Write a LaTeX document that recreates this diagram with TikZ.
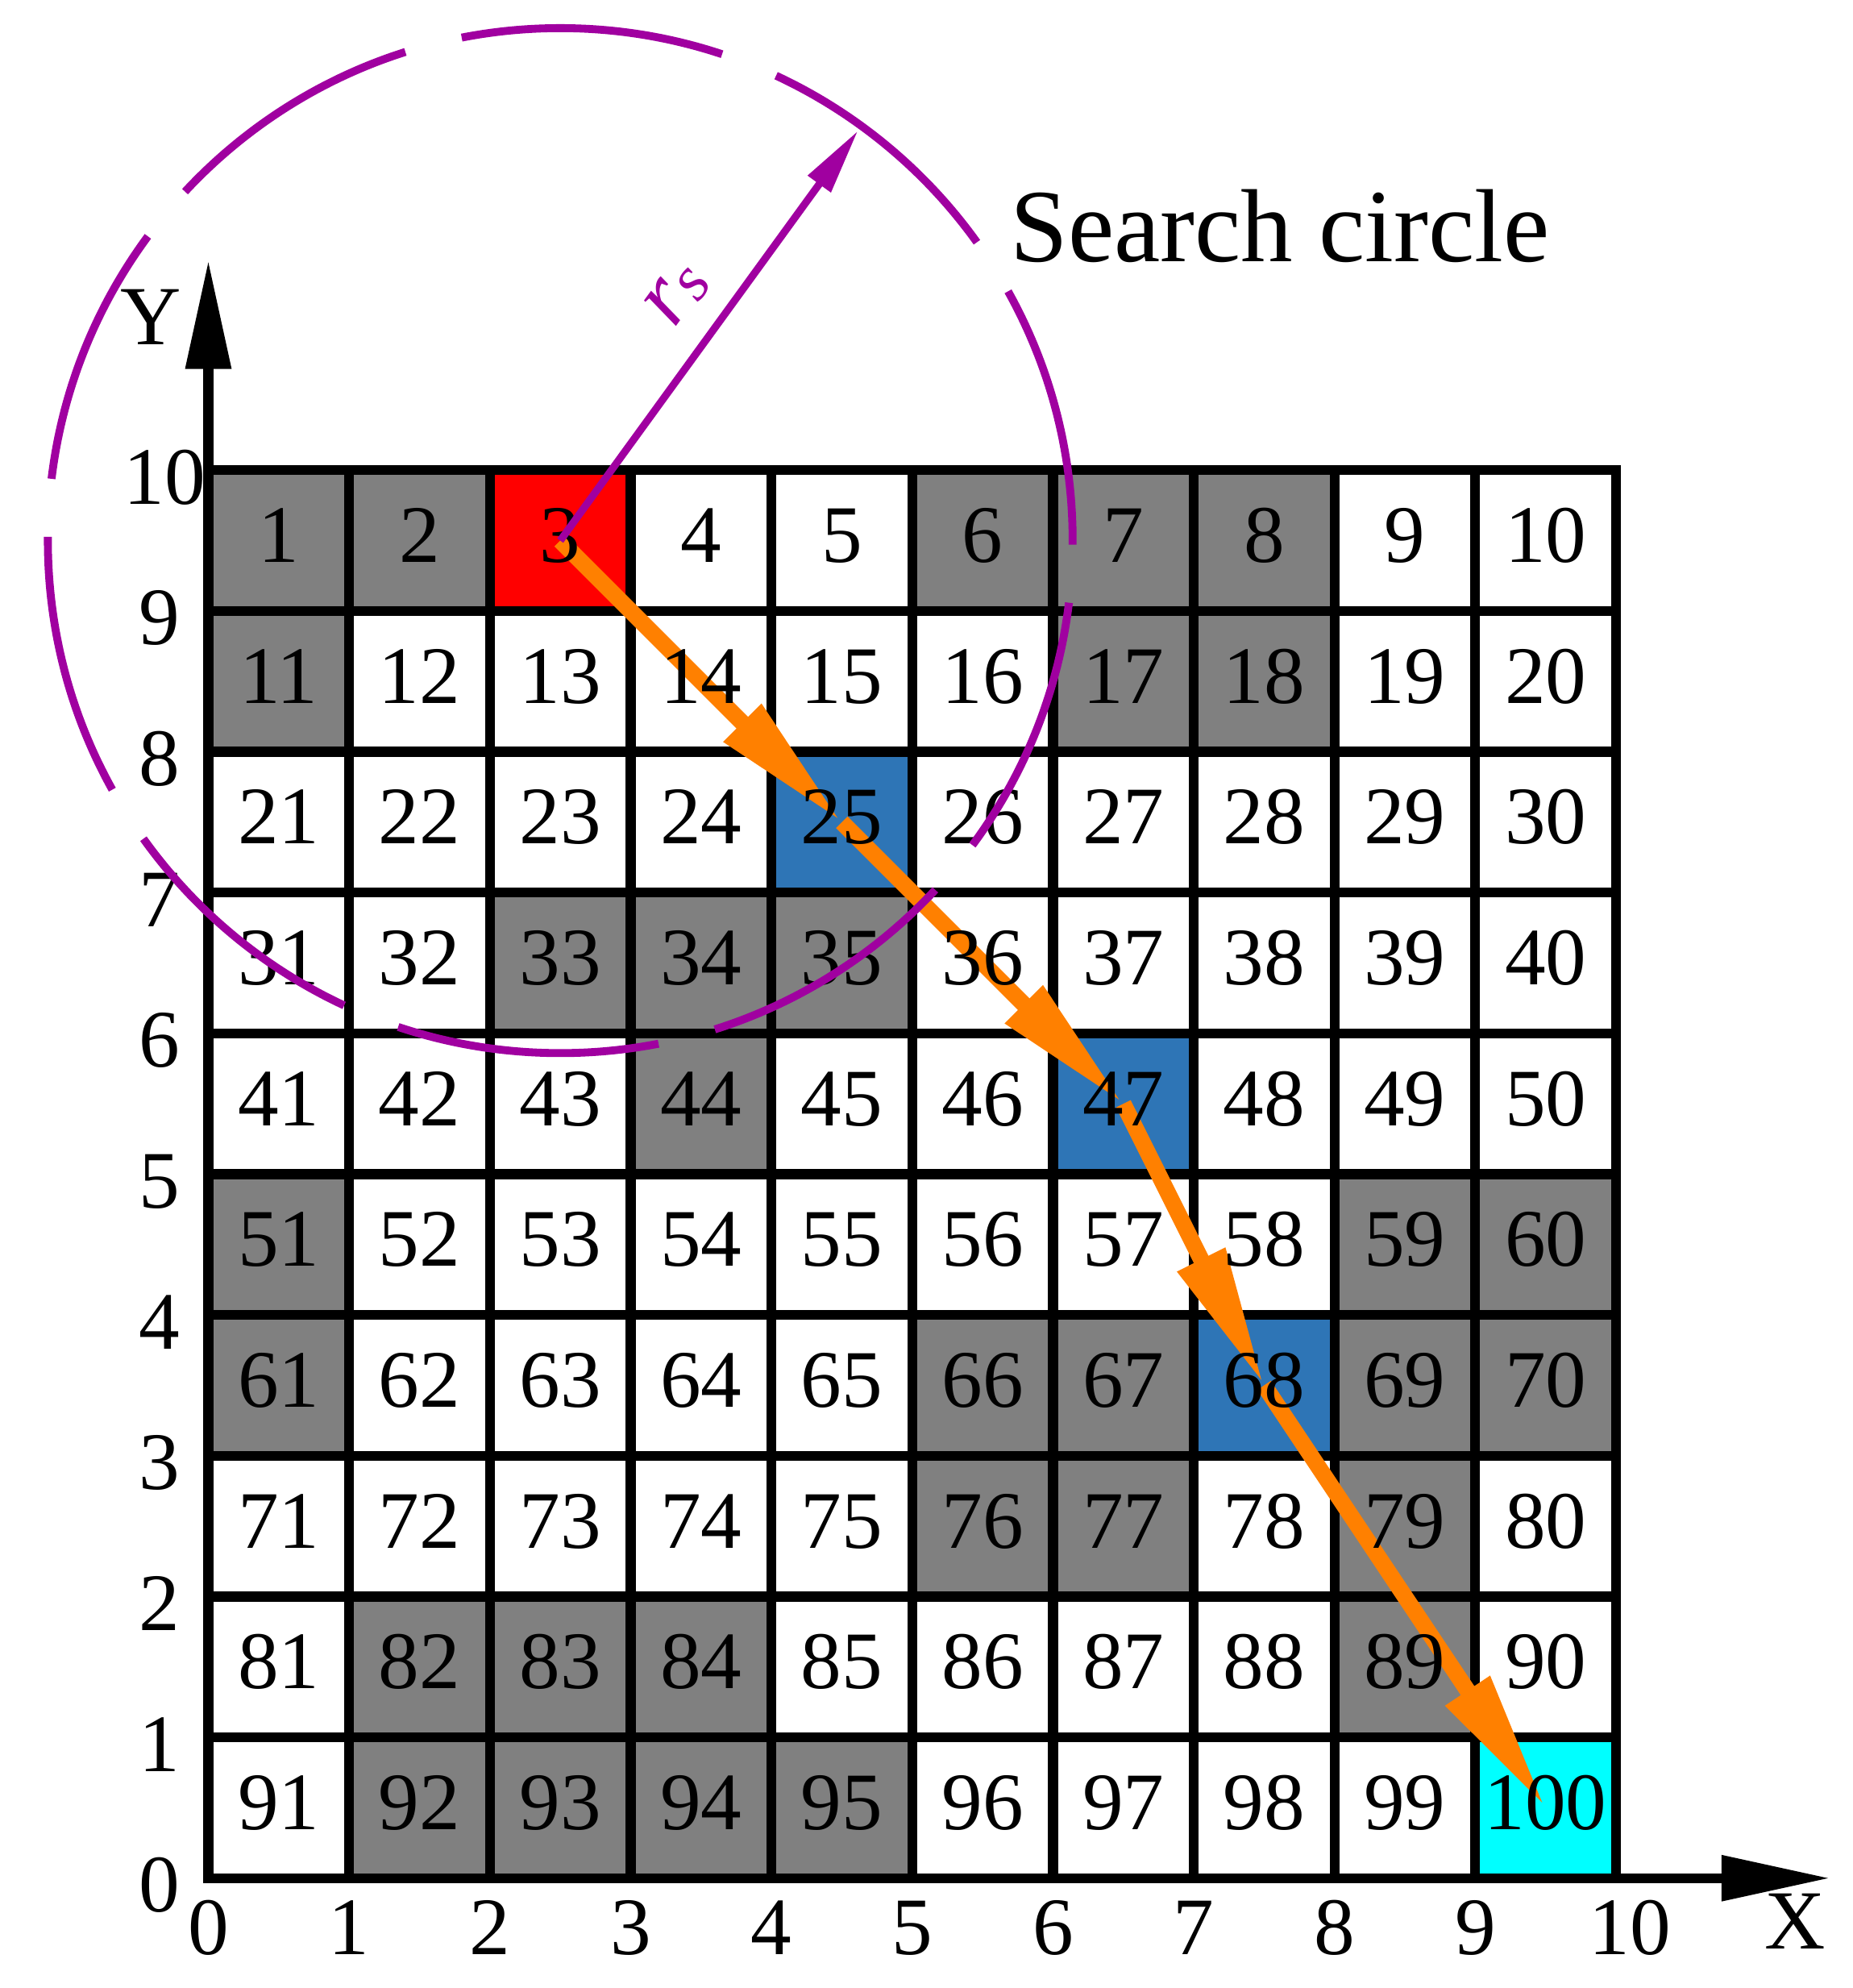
\documentclass[tikz,border=0pt]{standalone}
\usepackage{fontspec}
\setmainfont{Liberation Serif}
\usepackage{xcolor}
\usepackage{tikz}
\usetikzlibrary{arrows.meta}

\definecolor{cellgray}{RGB}{128,128,128}
\definecolor{cellblue}{RGB}{46,117,182}
\definecolor{cellcyan}{RGB}{0,255,255}
\definecolor{trackorange}{RGB}{255,128,0}
\definecolor{searchpurple}{RGB}{160,0,160}

\pgfdeclarelayer{cells}
\pgfdeclarelayer{track}
\pgfsetlayers{cells,track,main}

\begin{document}
\begin{tikzpicture}[
	num/.style={inner sep=0pt, text height=0.31cm, text depth=0pt, font=\fontsize{16.5}{16.5}\selectfont},
	ticklab/.style={anchor=base, inner sep=0pt, font=\fontsize{16.5}{16.5}\selectfont},
	trackline/.style={draw=trackorange, line width=3.3pt, -{Triangle[length=1cm, width=0.35cm]}},
	searchline/.style={draw=searchpurple, line width=1.6pt},
	axisline/.style={line width=2pt, -{Triangle[length=0.77cm, width=0.31cm]}}]
	\useasboundingbox (-1.48,-0.78) rectangle (11.68,13.34);

	\begin{pgfonlayer}{cells}
	\foreach \n in {1,2,6,7,8,11,17,18,33,34,35,44,51,59,60,61,66,67,69,70,76,77,79,82,83,84,89,92,93,94,95} {
		\pgfmathtruncatemacro{\row}{(\n-1)/10}
		\pgfmathtruncatemacro{\col}{\n-1-10*\row}
		\fill[cellgray] (\col,9-\row) rectangle +(1,1);
	}
	\fill[red] (2,9) rectangle +(1,1);
	\fill[cellblue] (4,7) rectangle +(1,1);
	\fill[cellblue] (6,5) rectangle +(1,1);
	\fill[cellblue] (7,3) rectangle +(1,1);
	\fill[cellcyan] (9,0) rectangle +(1,1);

	\draw[line width=2pt] (0,0) grid (10,10);
	\draw[line width=2pt] (0,0) rectangle (10,10);
	\end{pgfonlayer}

	% cell numbers
	\foreach \n in {1,...,100} {
		\pgfmathtruncatemacro{\row}{(\n-1)/10}
		\pgfmathtruncatemacro{\col}{\n-1-10*\row}
		\node[num] (n\n) at (\col+0.5,9.5-\row) {\n};
	}

	% path found
	\begin{pgfonlayer}{track}
	\draw[trackline] (n3.center) -- (n25.center);
	\draw[trackline] (n25.center) -- (n47.center);
	\draw[trackline] (n47.center) -- (n68.center);
	\draw[trackline] (n68.center) -- (n100.center);
	\end{pgfonlayer}

	% axes
	\draw[axisline] (0,0) -- (11.52,0);
	\draw[axisline] (0,0) -- (0,11.49);
	\foreach \i in {0,...,9} {
		\node[ticklab] (x\i) at (\i,-0.54) {\i};
		\node[ticklab] (y\i) at (-0.35,\i-0.24) {\i};
	}
	\node[ticklab] (x10) at (10.1,-0.54) {10};
	\node[ticklab] (y10) at (-0.31,9.76) {10};
	\node[ticklab, font=\fontsize{17}{17}\selectfont] (xlab) at (11.27,-0.505) {X};
	\node[ticklab, font=\fontsize{17}{17}\selectfont] (ylab) at (-0.41,10.89) {Y};

	% search circle
	\draw[searchline, dash pattern=on 1.874cm off 0.413cm, dash phase=0.025cm] (n3.center) circle (3.64);
	\draw[searchline, line width=1.5pt, -{Triangle[length=0.47cm, width=0.19cm]}] (n3.center) -- ++(54:3.6) coordinate (rim);
	\node[rotate=54, inner sep=0pt, text=searchpurple, font=\fontsize{18}{18}\selectfont] (rs) at (3.33,11.25) {\textit{r}\raisebox{-1pt}{\fontsize{13}{13}\selectfont\textit{s}}};
	\node[anchor=base west, inner sep=0pt, font=\fontsize{21}{21}\selectfont] (sc) at (5.69,11.48) {Search circle};

\end{tikzpicture}
\end{document}
